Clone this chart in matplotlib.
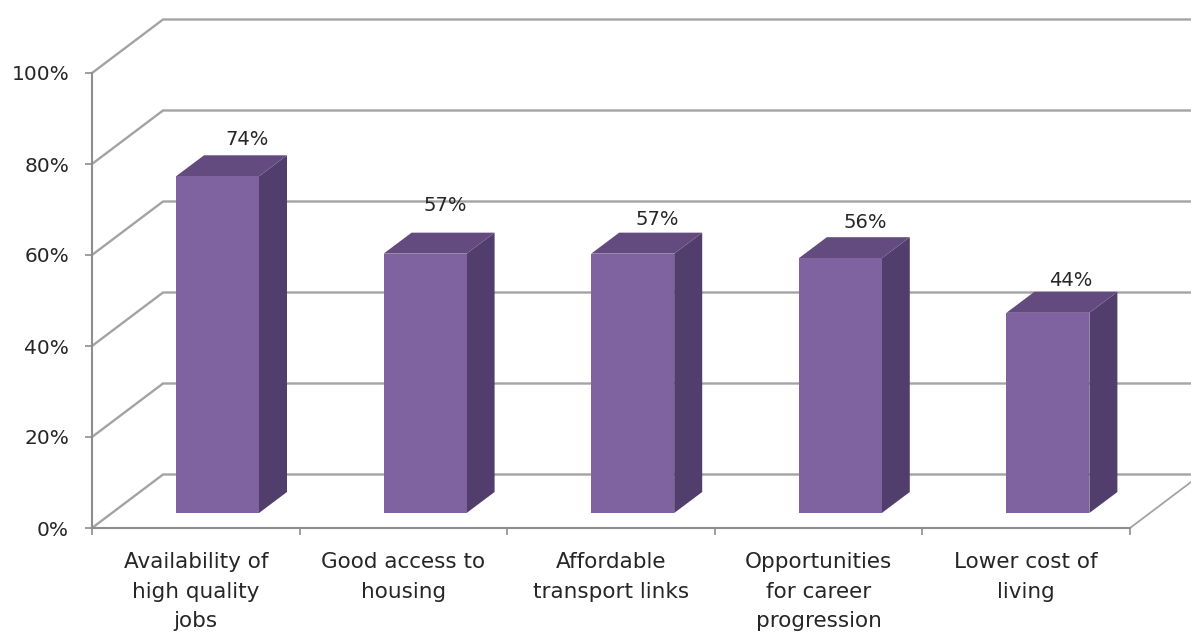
import matplotlib
matplotlib.use("Agg")
import matplotlib.pyplot as plt
from matplotlib.patches import Polygon

categories = ["Availability of\nhigh quality\njobs", "Good access to\nhousing",
              "Affordable\ntransport links", "Opportunities\nfor career\nprogression",
              "Lower cost of\nliving"]
values = [74, 57, 57, 56, 44]
y_ticks = [0, 20, 40, 60, 80, 100]
# label offsets from the centre of each bar's top, in pixels
label_dx = [30, 20, 25, 25, 23]
label_dy = [37, 48, 34, 36, 32]

W, H = 1191, 636
FONT = "DejaVu Sans"
GRID = "#a3a3a3"
AXIS = "#8e8e8e"
TEXT = "#262626"
FRONT, TOP, SIDE = "#7f62a0", "#634b7f", "#523e6c"

fig = plt.figure(figsize=(W / 100, H / 100), dpi=100, facecolor="white")
ax = fig.add_axes([92 / W, 1 - 528 / H, (1130 - 92) / W, (528 - 73) / H])
ax.set_xlim(0, 5)
ax.set_ylim(0, 100)
ax.patch.set_visible(False)

# oblique depth of the chart box and of each bar, in data units
wall_dx, wall_dy = 71 / 207.6, 53.5 / 4.55
bar_dx, bar_dy = 28 / 207.6, 21 / 4.55
bar_w = 83 / 207.6
shift_x, shift_y = 0.1045, 15 / 4.55

# back wall and side wall gridlines
right_end = 5 + (1200 - 1130) / 207.6
for t in y_ticks:
    ax.plot([0, wall_dx, right_end], [t, t + wall_dy, t + wall_dy], color=GRID,
            lw=1.7, clip_on=False, zorder=1, solid_joinstyle="miter")
ax.plot([5, 5 + wall_dx], [0, wall_dy], color=GRID, lw=1.3, clip_on=False, zorder=1)

# 3D bars built from three faces, standing on the raised floor line
for i, v in enumerate(values):
    x0 = i + 0.5 + shift_x - bar_w / 2
    x1 = x0 + bar_w
    y0 = shift_y
    y_top = y0 + v
    ax.add_patch(Polygon([(x1, y0), (x1 + bar_dx, y0 + bar_dy), (x1 + bar_dx, y_top + bar_dy), (x1, y_top)],
                         fc=SIDE, ec="none", clip_on=False, zorder=3))
    ax.add_patch(Polygon([(x0, y_top), (x1, y_top), (x1 + bar_dx, y_top + bar_dy), (x0 + bar_dx, y_top + bar_dy)],
                         fc=TOP, ec="none", clip_on=False, zorder=3))
    ax.add_patch(Polygon([(x0, y0), (x1, y0), (x1, y_top), (x0, y_top)],
                         fc=FRONT, ec="none", clip_on=False, zorder=4))
    ax.annotate(f"{v}%", xy=(i + 0.5 + shift_x, y_top), xytext=(label_dx[i], label_dy[i]),
                textcoords="offset pixels", ha="center", va="center",
                fontsize=14, family=FONT, color=TEXT, zorder=5)

for s in ("top", "right"):
    ax.spines[s].set_visible(False)
for s in ("left", "bottom"):
    ax.spines[s].set_color(AXIS)
    ax.spines[s].set_linewidth(1.5)

ax.set_yticks(y_ticks)
ax.set_yticklabels([f"{t}%" for t in y_ticks], fontsize=14.5, family=FONT, color=TEXT)
ax.tick_params(axis="y", length=5, width=1.2, color=AXIS, pad=11.5)

ax.set_xticks(range(6))
ax.set_xticklabels([""] * 6)
ax.tick_params(axis="x", length=5, width=1.2, color=AXIS)
for i, name in enumerate(categories):
    ax.annotate(name, xy=(i + 0.5, 0), xytext=(0, -24), textcoords="offset pixels",
                ha="center", va="top", fontsize=15.5, family=FONT, color=TEXT,
                linespacing=1.6, annotation_clip=False)

fig.savefig("out.png", dpi=100, facecolor="white")
